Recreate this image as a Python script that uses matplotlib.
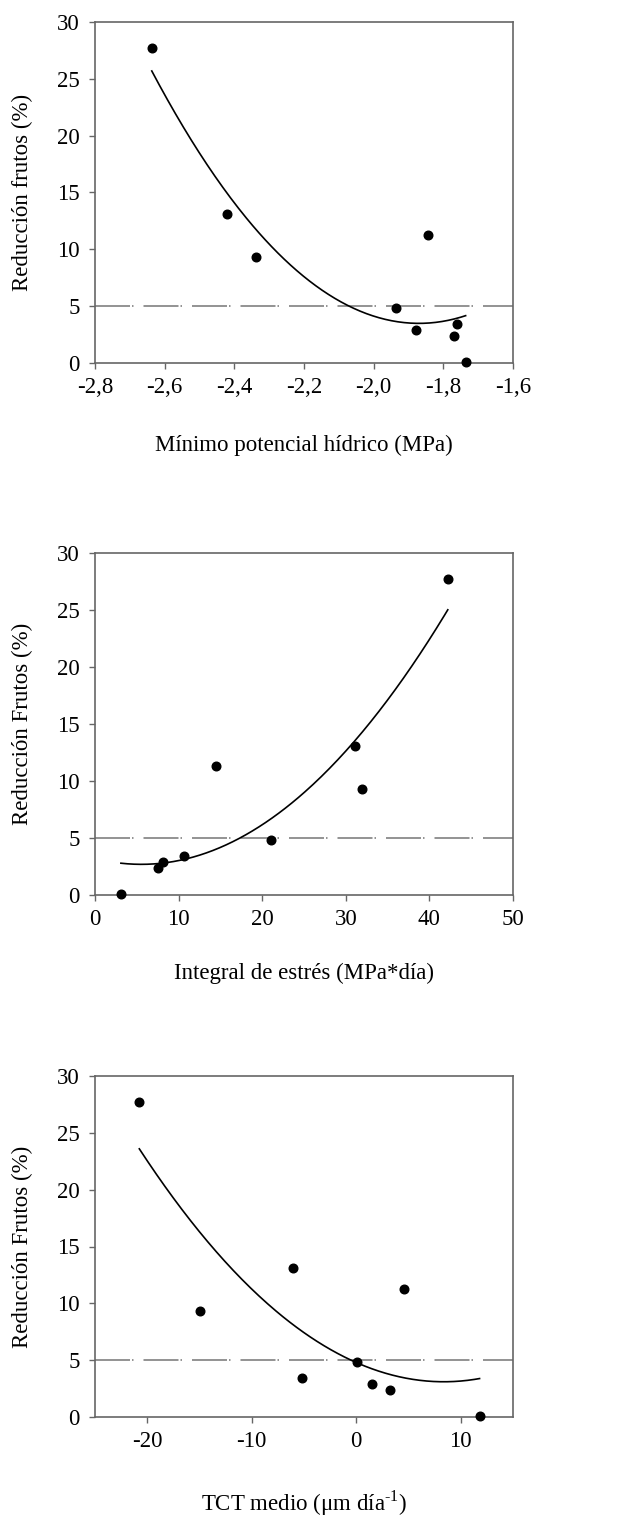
import numpy as np
import matplotlib
matplotlib.use("Agg")
import matplotlib.pyplot as plt

plt.rcParams['font.family'] = ['Liberation Serif', 'DejaVu Serif']
plt.rcParams['mathtext.fontset'] = 'custom'
plt.rcParams['mathtext.rm'] = 'Liberation Serif'

# Shared response: fruit reduction (%)
reduccion = [27.7, 13.1, 9.3, 4.8, 2.9, 11.3, 3.4, 2.4, 0.1]

# Panel 1: minimum water potential (MPa)
potencial = [-2.637, -2.421, -2.338, -1.937, -1.879, -1.845, -1.762, -1.770, -1.736]
# Panel 2: stress integral (MPa*day)
integral = [42.2, 31.1, 31.9, 21.1, 8.15, 14.5, 10.7, 7.48, 3.1]
# Panel 3: mean TCT (um/day)
tct = [-20.76, -6.03, -14.91, 0.1, 1.53, 4.6, -5.2, 3.21, 11.8]

umbral = 5

xticks1 = [-2.8, -2.6, -2.4, -2.2, -2.0, -1.8, -1.6]
xticklabels1 = ['-2,8', '-2,6', '-2,4', '-2,2', '-2,0', '-1,8', '-1,6']
xticks2 = [0, 10, 20, 30, 40, 50]
xticklabels2 = ['0', '10', '20', '30', '40', '50']
xticks3 = [-20, -10, 0, 10]
xticklabels3 = ['-20', '-10', '0', '10']
yticks = [0, 5, 10, 15, 20, 25, 30]
yticklabels = ['0', '5', '10', '15', '20', '25', '30']

W, H = 617, 1517
L, R = 95, 513
panels = [
    dict(x=potencial, xlim=(-2.8, -1.6), xt=xticks1, xtl=xticklabels1,
         ylabel='Reducción frutos (%)', xlabel='Mínimo potencial hídrico (MPa)',
         top=22, bot=363, xlab_y=451),
    dict(x=integral, xlim=(0, 50), xt=xticks2, xtl=xticklabels2,
         ylabel='Reducción Frutos (%)', xlabel='Integral de estrés (MPa*día)',
         top=553, bot=895, xlab_y=979),
    dict(x=tct, xlim=(-25, 15), xt=xticks3, xtl=xticklabels3,
         ylabel='Reducción Frutos (%)', xlabel='TCT medio (μm día$^{\\text{-1}}$)',
         top=1076, bot=1417, xlab_y=1511),
]

fig = plt.figure(figsize=(W / 100, H / 100), dpi=100)
spine_col = '#666666'
FS = 16.5

for p in panels:
    ax = fig.add_axes([L / W, 1 - p['bot'] / H, (R - L) / W, (p['bot'] - p['top']) / H])
    x = np.array(p['x'])
    y = np.array(reduccion)
    ax.axhline(umbral, color='#808080', lw=1.2, dashes=(21, 1.2, 0.9, 6))
    coef = np.polyfit(x, y, 2)
    xs = np.linspace(x.min(), x.max(), 200)
    ax.plot(xs, np.polyval(coef, xs), color='black', lw=1.2)
    ax.plot(x, y, 'o', color='black', ms=6.2, zorder=5, clip_on=False)
    ax.set_xlim(*p['xlim'])
    ax.set_ylim(0, 30)
    ax.set_xticks(p['xt'])
    ax.set_xticklabels(p['xtl'])
    ax.set_yticks(yticks)
    ax.set_yticklabels(yticklabels)
    for s in ax.spines.values():
        s.set_color(spine_col)
        s.set_linewidth(1.2)
    ax.tick_params(direction='out', length=4, width=1.0, color=spine_col,
                   labelsize=FS)
    ax.tick_params(axis='y', pad=7)
    ax.tick_params(axis='x', pad=6)
    fig.text(22 / W, 1 - 0.5 * (p['top'] + p['bot']) / H, p['ylabel'],
             fontsize=FS, rotation=90, ha='center', va='center')
    fig.text(0.5 * (L + R) / W, 1 - p['xlab_y'] / H, p['xlabel'],
             fontsize=FS, ha='center', va='baseline')

fig.savefig('out.png', dpi=100)
